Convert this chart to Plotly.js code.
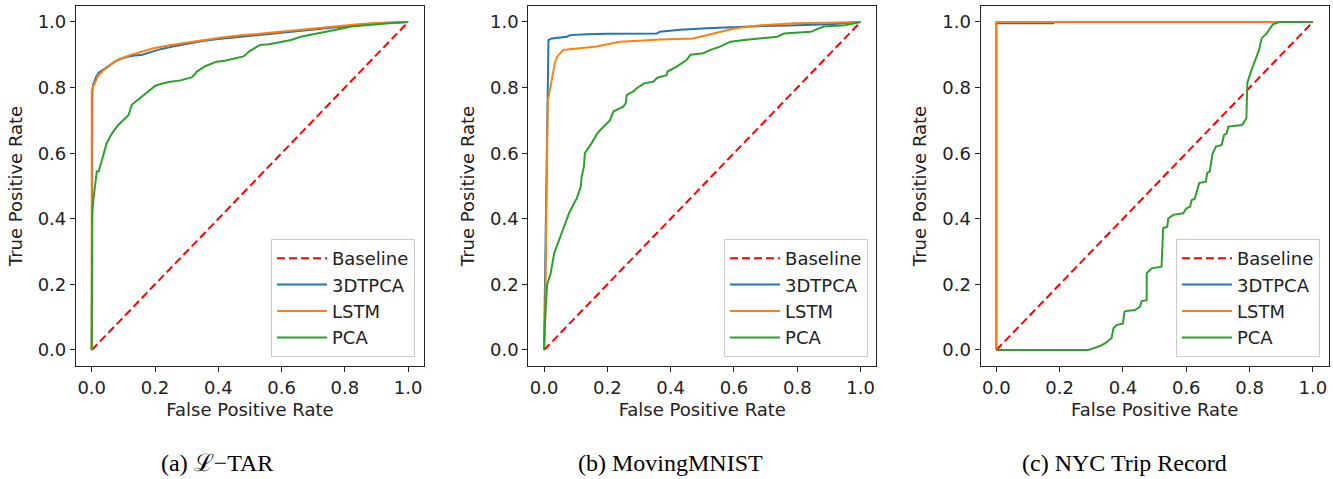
<!DOCTYPE html>
<html>
<head>
<meta charset="utf-8">
<script src="https://cdn.plot.ly/plotly-3.0.1.min.js"></script>
<style>html,body{margin:0;padding:0;background:#fff;}#chart{width:1333px;height:479px;}</style>
</head>
<body>
<div id="chart"></div>
<script>
// ---------- data ----------
const seriesNames = ["Baseline", "3DTPCA", "LSTM", "PCA"];
const captions = ["(a) \u2112\u2212TAR", "(b) MovingMNIST", "(c) NYC Trip Record"];
const tickVals = [0, 0.2, 0.4, 0.6, 0.8, 1.0];
const tickText = ["0.0", "0.2", "0.4", "0.6", "0.8", "1.0"];

const baselineX = [0, 1];
const baselineY = [0, 1];

// (a) L-TAR
const a3dX = [0, 0, 0.002, 0.005, 0.01, 0.015, 0.022, 0.03, 0.04, 0.05, 0.06, 0.075, 0.09, 0.11, 0.13, 0.16, 0.19, 0.22, 0.26, 0.3, 0.35, 0.4, 0.45, 0.5, 0.55, 0.6, 0.65, 0.7, 0.75, 0.8, 0.85, 0.9, 0.95, 1];
const a3dY = [0, 0.74, 0.79, 0.81, 0.825, 0.835, 0.845, 0.85, 0.855, 0.862, 0.87, 0.88, 0.887, 0.893, 0.897, 0.9, 0.908, 0.918, 0.926, 0.934, 0.942, 0.948, 0.953, 0.958, 0.963, 0.968, 0.973, 0.978, 0.983, 0.988, 0.992, 0.996, 0.998, 1];
const aLstmX = [0, 0, 0.003, 0.008, 0.015, 0.021, 0.03, 0.037, 0.048, 0.058, 0.07, 0.084, 0.1, 0.121, 0.15, 0.195, 0.25, 0.321, 0.37, 0.427, 0.48, 0.532, 0.6, 0.65, 0.7, 0.75, 0.8, 0.85, 0.9, 0.95, 1];
const aLstmY = [0, 0.79, 0.8, 0.81, 0.825, 0.838, 0.845, 0.854, 0.86, 0.869, 0.878, 0.886, 0.892, 0.899, 0.907, 0.92, 0.93, 0.94, 0.947, 0.955, 0.96, 0.965, 0.97, 0.975, 0.98, 0.984, 0.99, 0.994, 0.997, 0.999, 1];
const aPcaX = [0, 0, 0.002, 0.005, 0.01, 0.016, 0.022, 0.032, 0.04, 0.047, 0.058, 0.068, 0.084, 0.1, 0.116, 0.121, 0.126, 0.145, 0.163, 0.18, 0.2, 0.22, 0.248, 0.28, 0.316, 0.325, 0.332, 0.36, 0.395, 0.42, 0.448, 0.48, 0.5, 0.532, 0.56, 0.6, 0.63, 0.66, 0.7, 0.74, 0.78, 0.82, 0.86, 0.9, 0.95, 1];
const aPcaY = [0, 0.386, 0.42, 0.457, 0.5, 0.544, 0.544, 0.579, 0.6, 0.63, 0.65, 0.666, 0.686, 0.7, 0.716, 0.73, 0.747, 0.762, 0.777, 0.79, 0.805, 0.812, 0.818, 0.822, 0.831, 0.84, 0.849, 0.866, 0.879, 0.882, 0.889, 0.895, 0.912, 0.93, 0.932, 0.94, 0.945, 0.955, 0.962, 0.97, 0.978, 0.986, 0.99, 0.994, 0.997, 1];

// (b) MovingMNIST
const b3dX = [0, 0.004, 0.008, 0.011, 0.014, 0.024, 0.05, 0.072, 0.082, 0.135, 0.2, 0.3, 0.356, 0.366, 0.43, 0.514, 0.6, 0.7, 0.8, 0.9, 1];
const b3dY = [0, 0.3, 0.6, 0.76, 0.945, 0.95, 0.952, 0.955, 0.96, 0.963, 0.964, 0.965, 0.965, 0.97, 0.976, 0.981, 0.985, 0.988, 0.99, 0.993, 1];
const bLstmX = [0, 0.004, 0.007, 0.009, 0.012, 0.018, 0.024, 0.03, 0.035, 0.042, 0.05, 0.061, 0.08, 0.114, 0.166, 0.2, 0.24, 0.3, 0.366, 0.471, 0.514, 0.556, 0.6, 0.684, 0.79, 0.9, 1];
const bLstmY = [0, 0.1, 0.4, 0.66, 0.76, 0.79, 0.823, 0.86, 0.879, 0.895, 0.905, 0.915, 0.917, 0.92, 0.925, 0.932, 0.94, 0.943, 0.947, 0.95, 0.96, 0.97, 0.98, 0.99, 0.996, 0.998, 1];
const bPcaX = [0, 0.003, 0.01, 0.021, 0.032, 0.047, 0.063, 0.079, 0.1, 0.103, 0.116, 0.119, 0.126, 0.129, 0.15, 0.168, 0.177, 0.2, 0.208, 0.219, 0.25, 0.258, 0.261, 0.284, 0.293, 0.316, 0.345, 0.358, 0.387, 0.39, 0.419, 0.45, 0.463, 0.503, 0.526, 0.556, 0.589, 0.632, 0.7, 0.737, 0.758, 0.8, 0.842, 0.884, 0.95, 1];
const bPcaY = [0, 0.09, 0.2, 0.234, 0.295, 0.335, 0.376, 0.417, 0.457, 0.46, 0.498, 0.528, 0.559, 0.6, 0.63, 0.66, 0.67, 0.69, 0.7, 0.727, 0.742, 0.752, 0.777, 0.79, 0.798, 0.813, 0.818, 0.83, 0.838, 0.849, 0.864, 0.884, 0.9, 0.905, 0.915, 0.925, 0.94, 0.945, 0.95, 0.955, 0.965, 0.967, 0.97, 0.986, 0.99, 1];

// (c) NYC Trip Record
const c3dX = [0, 0, 0.18, 0.185, 1];
const c3dY = [0, 0.996, 0.996, 1, 1];
const cLstmX = [0, 0, 1];
const cLstmY = [0, 1, 1];
const cPcaX = [0, 0.29, 0.306, 0.327, 0.343, 0.364, 0.37, 0.38, 0.4, 0.405, 0.417, 0.438, 0.454, 0.459, 0.475, 0.475, 0.491, 0.522, 0.527, 0.54, 0.543, 0.559, 0.59, 0.601, 0.612, 0.617, 0.627, 0.633, 0.641, 0.662, 0.666, 0.674, 0.683, 0.694, 0.712, 0.719, 0.727, 0.733, 0.776, 0.79, 0.793, 0.805, 0.815, 0.83, 0.838, 0.854, 0.864, 0.875, 0.896, 1];
const cPcaY = [0, 0, 0.005, 0.012, 0.02, 0.036, 0.066, 0.076, 0.081, 0.117, 0.12, 0.122, 0.132, 0.149, 0.152, 0.234, 0.249, 0.254, 0.371, 0.376, 0.401, 0.412, 0.417, 0.432, 0.437, 0.457, 0.462, 0.484, 0.509, 0.513, 0.539, 0.544, 0.599, 0.62, 0.625, 0.655, 0.66, 0.681, 0.686, 0.706, 0.815, 0.85, 0.875, 0.915, 0.95, 0.965, 0.98, 0.994, 1, 1];

// ---------- styling ----------
const colors = { Baseline: "#ff0000", "3DTPCA": "#1f77b4", LSTM: "#ff7f0e", PCA: "#2ca02c" };
const panels = [
  { xs: [a3dX, aLstmX, aPcaX], ys: [a3dY, aLstmY, aPcaY] },
  { xs: [b3dX, bLstmX, bPcaX], ys: [b3dY, bLstmY, bPcaY] },
  { xs: [c3dX, cLstmX, cPcaX], ys: [c3dY, cLstmY, cPcaY] }
];
const xDomains = [[0.05694, 0.31808], [0.39625, 0.65747], [0.73556, 0.99677]];
const yDomain = [0.23507, 0.98831];
const legendRight = [0.3113, 0.6512, 0.9902];
const captionX = [217, 670, 1124];

const font = "DejaVu Sans, sans-serif";
const textColor = "#222222";
const traces = [];
const layout = {
  width: 1333, height: 479,
  margin: { l: 0, r: 0, t: 0, b: 0, pad: 0 },
  paper_bgcolor: "#ffffff", plot_bgcolor: "#ffffff",
  font: { family: font, size: 18, color: textColor },
  annotations: []
};

panels.forEach((p, i) => {
  const ax = i === 0 ? "" : String(i + 1);
  const legendId = i === 0 ? "legend" : "legend" + (i + 1);
  traces.push({
    x: baselineX, y: baselineY, type: "scatter", mode: "lines", name: seriesNames[0],
    xaxis: "x" + ax, yaxis: "y" + ax, legend: legendId,
    line: { color: colors.Baseline, width: 2, dash: "8px,4px" }, hoverinfo: "skip"
  });
  for (let k = 0; k < 3; k++) {
    const nm = seriesNames[k + 1];
    traces.push({
      x: p.xs[k], y: p.ys[k], type: "scatter", mode: "lines", name: nm,
      xaxis: "x" + ax, yaxis: "y" + ax, legend: legendId,
      line: { color: colors[nm], width: 2 }, hoverinfo: "skip"
    });
  }
  const axisCommon = {
    range: [-0.05, 1.05], tickmode: "array", tickvals: tickVals, ticktext: tickText,
    ticks: "outside", ticklen: 5, tickwidth: 1, tickcolor: "#222",
    showline: true, mirror: true, linecolor: "#222", linewidth: 1,
    showgrid: false, zeroline: false, automargin: false,
    tickfont: { family: font, size: 18, color: textColor }
  };
  layout["xaxis" + ax] = Object.assign({}, axisCommon, {
    domain: xDomains[i], anchor: "y" + ax,
    title: { text: "False Positive Rate", font: { family: font, size: 18, color: textColor }, standoff: 6 }
  });
  layout["yaxis" + ax] = Object.assign({}, axisCommon, {
    domain: yDomain, anchor: "x" + ax,
    title: { text: "True Positive Rate", font: { family: font, size: 18, color: textColor }, standoff: 10 }
  });
  layout[legendId] = {
    x: legendRight[i], xanchor: "right", y: 0.2547, yanchor: "bottom",
    bgcolor: "rgba(255,255,255,0.8)", bordercolor: "#cccccc", borderwidth: 1,
    font: { family: font, size: 18, color: textColor },
    itemwidth: 50, traceorder: "normal"
  };
  layout.annotations.push({
    text: captions[i], xref: "paper", yref: "paper",
    x: captionX[i] / 1333, y: 1 - 463 / 479, xanchor: "center", yanchor: "middle",
    showarrow: false, font: { family: "Liberation Serif, Times New Roman, serif", size: 24, color: "#000" }
  });
});

Plotly.newPlot("chart", traces, layout, { displayModeBar: false, staticPlot: true });
</script>
</body>
</html>
